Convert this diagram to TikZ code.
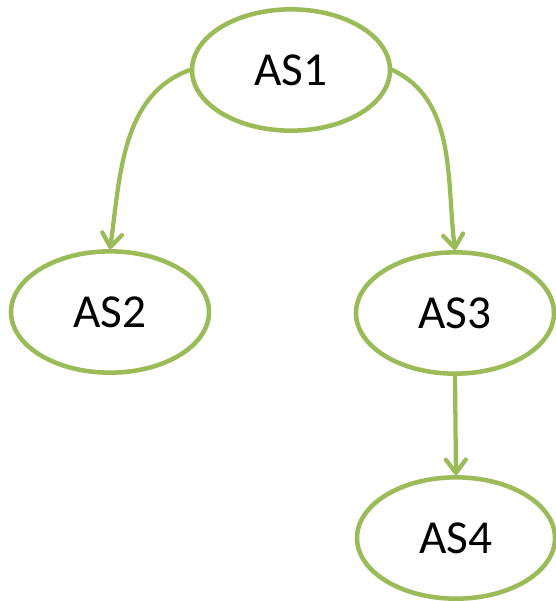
\documentclass[tikz,border=0pt]{standalone}
\usepackage{fontspec}
\setmainfont{Carlito}
\usetikzlibrary{shapes.geometric,arrows.meta}
\definecolor{olgreen}{HTML}{9BBB59}
\begin{document}
\begin{tikzpicture}[x=0.75pt,y=-0.75pt,
  asnode/.style={ellipse,draw=olgreen,line width=3.4pt,fill=white,
    minimum width=148.5pt,minimum height=91pt,inner sep=0pt,
    font=\fontsize{35.5}{42}\selectfont},
  conn/.style={draw=olgreen,line width=3.2pt,line cap=round,line join=round,
    -{Straight Barb[length=10pt,width=15pt,line cap=round,line join=round]}}]
\useasboundingbox (0,0) rectangle (556,601);
\node[asnode] (as1) at (291,70) {AS1};
\node[asnode] (as2) at (110,312) {AS2};
\node[asnode] (as3) at (455,313) {AS3};
\node[asnode] (as4) at (456,538) {AS4};
\draw[conn] (as1.west) to[out=200,in=82,looseness=0.95] (as2.north);
\draw[conn] (as1.east) to[out=-25,in=97,looseness=0.95] (as3.north);
\draw[conn] (as3.south) -- (as4.north);
\end{tikzpicture}
\end{document}
